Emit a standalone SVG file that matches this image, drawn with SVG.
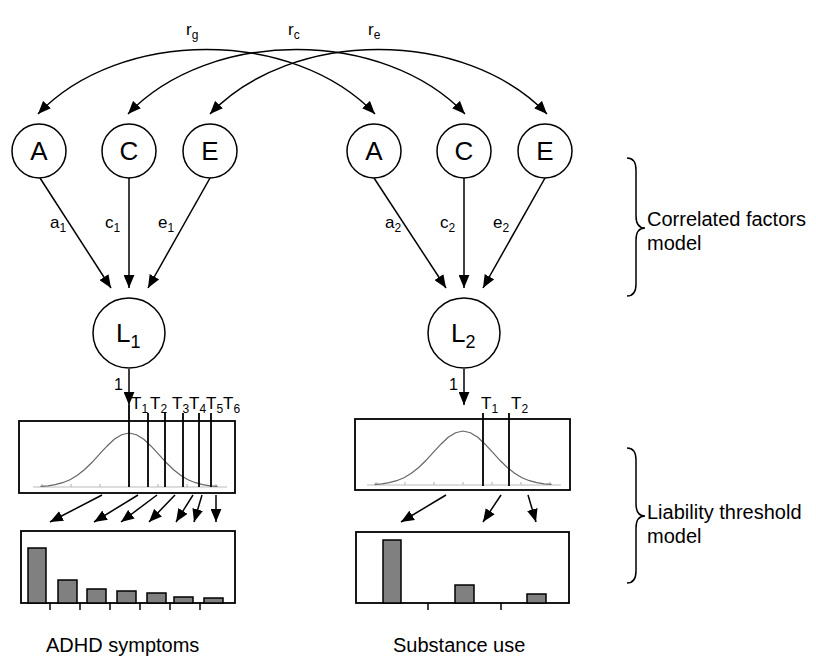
<svg xmlns="http://www.w3.org/2000/svg" xmlns:xlink="http://www.w3.org/1999/xlink" width="816" height="657" viewBox="0 0 816 657">
<style>
  text { font-family: "Liberation Sans", Arial, sans-serif; fill: #000; }
  .big { font-size: 26px; }
  .lbl { font-size: 17px; }
  .sm { font-size: 17px; }
  .one { font-size: 16px; }
  .side { font-size: 20px; }
  .sub { font-size: 12px; }
  .node { fill: #fff; stroke: #000; stroke-width: 1.5; }
  .edge { fill: none; stroke: #000; stroke-width: 1.5; }
  .box { fill: #fff; stroke: #000; stroke-width: 1.8; }
  .bar { fill: #808080; stroke: #000; stroke-width: 1.5; }
  .thr { stroke: #000; stroke-width: 1.8; }
  .axis { stroke: #bbb; stroke-width: 1.2; fill: none; }
  .curve { fill: none; stroke: #666; stroke-width: 1.2; }
  .brace { fill: none; stroke: #000; stroke-width: 1.5; }
</style>
<defs>
  <marker id="ah" viewBox="0 0 12 10" refX="12" refY="5" markerWidth="13" markerHeight="11" markerUnits="userSpaceOnUse" orient="auto-start-reverse">
    <path d="M0,0 L12,5 L0,10 z" fill="#000"/>
  </marker>
  <g id="dist">
    <path class="axis" d="M-96,0 H98 M-87,0 v-3 M-58,0 v-3 M-29,0 v-3 M0,0 v-3 M29,0 v-3 M58,0 v-3 M87,0 v-3"/>
    <polyline class="curve" points="-88.5,-0.6 -81.1,-1.2 -73.8,-2.4 -66.4,-4.3 -59,-7.3 -51.6,-11.7 -44.3,-17.5 -36.9,-24.7 -29.5,-32.8 -22.1,-40.8 -14.8,-47.7 -7.4,-52.3 0,-54 7.4,-52.3 14.8,-47.7 22.1,-40.8 29.5,-32.8 36.9,-24.7 44.3,-17.5 51.6,-11.7 59,-7.3 66.4,-4.3 73.8,-2.4 81.1,-1.2 88.5,-0.6"/>
  </g>
</defs>

<g id="connectors">
  <!-- correlations -->
  <path class="edge" d="M38,114 C120,28 293,28 375,114" marker-start="url(#ah)" marker-end="url(#ah)"/>
  <path class="edge" d="M128,114 C210,28 383,28 465,114" marker-start="url(#ah)" marker-end="url(#ah)"/>
  <path class="edge" d="M210,114 C292,28 465,28 547,114" marker-start="url(#ah)" marker-end="url(#ah)"/>
  <!-- loadings -->
  <path class="edge" d="M40,178 L111,288" marker-end="url(#ah)"/>
  <path class="edge" d="M129,178 L129,288" marker-end="url(#ah)"/>
  <path class="edge" d="M210,178 L148,288" marker-end="url(#ah)"/>
  <path class="edge" d="M374,178 L446,288" marker-end="url(#ah)"/>
  <path class="edge" d="M464,178 L464,288" marker-end="url(#ah)"/>
  <path class="edge" d="M545,178 L483,288" marker-end="url(#ah)"/>
  <!-- L to distributions -->
  <path class="edge" d="M129,369 L129,405" marker-end="url(#ah)"/>
  <path class="edge" d="M464,369 L464,405" marker-end="url(#ah)"/>
  <!-- distribution to bars, left -->
  <path class="edge" d="M102,495 L50,522" marker-end="url(#ah)"/>
  <path class="edge" d="M138,495 L94,522" marker-end="url(#ah)"/>
  <path class="edge" d="M157,495 L121,522" marker-end="url(#ah)"/>
  <path class="edge" d="M175,495 L149,522" marker-end="url(#ah)"/>
  <path class="edge" d="M193,495 L176,522" marker-end="url(#ah)"/>
  <path class="edge" d="M202,495 L194,522" marker-end="url(#ah)"/>
  <path class="edge" d="M216,495 L216,522" marker-end="url(#ah)"/>
  <!-- distribution to bars, right -->
  <path class="edge" d="M446,495 L401,522" marker-end="url(#ah)"/>
  <path class="edge" d="M501,495 L483,522" marker-end="url(#ah)"/>
  <path class="edge" d="M528,495 L536,522" marker-end="url(#ah)"/>
</g>

<g id="corr-labels">
  <text class="sm" x="186" y="35">r<tspan class="sub" dy="4">g</tspan></text>
  <text class="sm" x="288" y="35">r<tspan class="sub" dy="4">c</tspan></text>
  <text class="sm" x="368" y="35">r<tspan class="sub" dy="4">e</tspan></text>
</g>

<g id="load-labels">
  <text class="lbl" x="50" y="228">a<tspan class="sub" dy="4">1</tspan></text>
  <text class="lbl" x="105" y="228">c<tspan class="sub" dy="4">1</tspan></text>
  <text class="lbl" x="158" y="228">e<tspan class="sub" dy="4">1</tspan></text>
  <text class="lbl" x="385" y="228">a<tspan class="sub" dy="4">2</tspan></text>
  <text class="lbl" x="440" y="228">c<tspan class="sub" dy="4">2</tspan></text>
  <text class="lbl" x="493" y="228">e<tspan class="sub" dy="4">2</tspan></text>
  <text class="one" x="114" y="390">1</text>
  <text class="one" x="449" y="390">1</text>
</g>

<g id="A1"><circle class="node" cx="39" cy="151" r="27"/><text class="big" x="39" y="160" text-anchor="middle">A</text></g>
<g id="C1"><circle class="node" cx="129" cy="151" r="27"/><text class="big" x="129" y="160" text-anchor="middle">C</text></g>
<g id="E1"><circle class="node" cx="210" cy="151" r="27"/><text class="big" x="210" y="160" text-anchor="middle">E</text></g>
<g id="A2"><circle class="node" cx="374" cy="151" r="27"/><text class="big" x="374" y="160" text-anchor="middle">A</text></g>
<g id="C2"><circle class="node" cx="464" cy="151" r="27"/><text class="big" x="464" y="160" text-anchor="middle">C</text></g>
<g id="E2"><circle class="node" cx="545" cy="151" r="27"/><text class="big" x="545" y="160" text-anchor="middle">E</text></g>

<g id="L1"><ellipse class="node" cx="129" cy="333" rx="36" ry="35"/><text class="big" x="116" y="342">L<tspan font-size="18" dy="6">1</tspan></text></g>
<g id="L2"><ellipse class="node" cx="464" cy="333" rx="36" ry="35"/><text class="big" x="451" y="342">L<tspan font-size="18" dy="6">2</tspan></text></g>

<g id="dist-left">
  <rect class="box" x="19" y="421" width="216" height="72"/>
  <use xlink:href="#dist" transform="translate(129,487)"/>
  <path class="thr" d="M129,405 V487 M148,413 V487 M165,413 V487 M183,413 V487 M199,413 V487 M211,413 V487"/>
  <text class="sm" x="131" y="409">T<tspan class="sub" dy="4">1</tspan></text>
  <text class="sm" x="150" y="409">T<tspan class="sub" dy="4">2</tspan></text>
  <text class="sm" x="172" y="409">T<tspan class="sub" dy="4">3</tspan></text>
  <text class="sm" x="189" y="409">T<tspan class="sub" dy="4">4</tspan></text>
  <text class="sm" x="206" y="409">T<tspan class="sub" dy="4">5</tspan></text>
  <text class="sm" x="223" y="409">T<tspan class="sub" dy="4">6</tspan></text>
</g>

<g id="dist-right">
  <rect class="box" x="355" y="419" width="215" height="71"/>
  <use xlink:href="#dist" transform="translate(463,485)"/>
  <path class="thr" d="M483,413 V486 M509,413 V486"/>
  <text class="sm" x="481" y="409">T<tspan class="sub" dy="4">1</tspan></text>
  <text class="sm" x="511" y="409">T<tspan class="sub" dy="4">2</tspan></text>
</g>

<g id="bars-left">
  <rect class="box" x="21" y="531" width="214" height="72"/>
  <rect class="bar" x="28" y="548" width="18" height="55"/>
  <rect class="bar" x="58" y="580" width="19" height="23"/>
  <rect class="bar" x="87" y="589" width="19" height="14"/>
  <rect class="bar" x="117" y="591" width="19" height="12"/>
  <rect class="bar" x="147" y="593" width="19" height="10"/>
  <rect class="bar" x="174" y="597" width="19" height="6"/>
  <rect class="bar" x="204" y="598" width="19" height="5"/>
  <path class="edge" d="M50,603 v7 M80,603 v7 M110,603 v7 M140,603 v7 M170,603 v7 M200,603 v7"/>
</g>

<g id="bars-right">
  <rect class="box" x="356" y="532" width="213" height="71"/>
  <rect class="bar" x="383" y="540" width="18" height="63"/>
  <rect class="bar" x="455" y="585" width="19" height="18"/>
  <rect class="bar" x="527" y="594" width="19" height="9"/>
  <path class="edge" d="M428,603 v7 M501,603 v7"/>
</g>

<g id="braces">
  <path class="brace" d="M627,158 Q636,158 636,170 L636,216 Q636,228 645,228 Q636,228 636,240 L636,284 Q636,296 627,296"/>
  <path class="brace" d="M627,448 Q636,448 636,460 L636,504 Q636,516 645,516 Q636,516 636,528 L636,571 Q636,583 627,583"/>
  <text class="side" x="647" y="226">Correlated factors</text>
  <text class="side" x="647" y="250">model</text>
  <text class="side" x="647" y="519">Liability threshold</text>
  <text class="side" x="647" y="543">model</text>
</g>

<g id="bottom-labels">
  <text class="side" x="46" y="652">ADHD symptoms</text>
  <text class="side" x="393" y="652">Substance use</text>
</g>
</svg>
